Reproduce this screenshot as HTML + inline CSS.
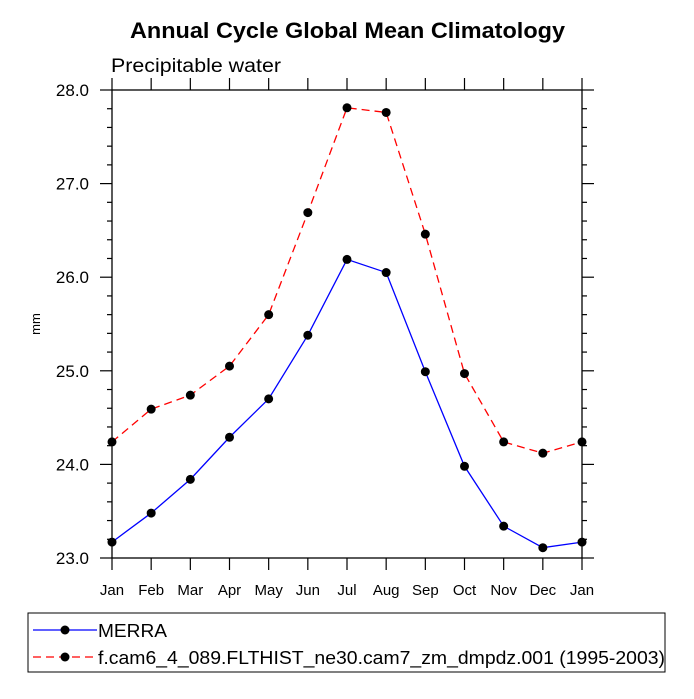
<!DOCTYPE html>
<html><head><meta charset="utf-8"><style>
body{margin:0;background:#fff}
svg text{font-family:"Liberation Sans",Arial,sans-serif}
</style></head><body>
<svg id="c" width="694" height="694" viewBox="0 0 694 694" xmlns="http://www.w3.org/2000/svg">
<text x="130" y="38" font-size="22" font-weight="bold" textLength="435" lengthAdjust="spacingAndGlyphs">Annual Cycle Global Mean Climatology</text>
<text x="111" y="72" font-size="19" textLength="170" lengthAdjust="spacingAndGlyphs">Precipitable water</text>
<text transform="translate(40,324) rotate(-90)" text-anchor="middle" font-size="13">mm</text>
<g id="axes"></g>
<g id="series"></g>
<g>
<rect x="28" y="613" width="637" height="59" fill="#fff" stroke="#000" stroke-width="1"/>
<line x1="33" y1="630" x2="97" y2="630" stroke="#0000ff" stroke-width="1.3"/>
<circle cx="65" cy="630" r="4.5" fill="#000"/>
<text x="98" y="637" font-size="18" textLength="69" lengthAdjust="spacingAndGlyphs">MERRA</text>
<line x1="33" y1="657" x2="97" y2="657" stroke="#ff0000" stroke-width="1.3" stroke-dasharray="8,5"/>
<circle cx="65" cy="657" r="4.5" fill="#000"/>
<text x="98" y="664" font-size="18" textLength="567" lengthAdjust="spacingAndGlyphs">f.cam6_4_089.FLTHIST_ne30.cam7_zm_dmpdz.001 (1995-2003)</text>
</g>
</svg>
<script>
const months=["Jan","Feb","Mar","Apr","May","Jun","Jul","Aug","Sep","Oct","Nov","Dec","Jan"];
const merra=[23.17,23.48,23.84,24.29,24.70,25.38,26.19,26.05,24.99,23.98,23.34,23.11,23.17];
const model=[24.24,24.59,24.74,25.05,25.60,26.69,27.81,27.76,26.46,24.97,24.24,24.12,24.24];
const yTicks=["23.0","24.0","25.0","26.0","27.0","28.0"];
const NS="http://www.w3.org/2000/svg";
const L=112,R=582,T=90,B=558,ymin=23,ymax=28;
const xs=i=>L+(R-L)*i/(months.length-1);
const ys=v=>B-(v-ymin)/(ymax-ymin)*(B-T);
function mk(t,a,p){const e=document.createElementNS(NS,t);for(const k in a)e.setAttribute(k,a[k]);p.appendChild(e);return e;}
const ax=document.getElementById('axes');
const frame=mk('rect',{x:L,y:T,width:R-L,height:B-T,fill:'none',stroke:'#000','stroke-width':1.3},ax);


months.forEach((m,i)=>{const x=xs(i);
mk('line',{x1:x,y1:B,x2:x,y2:B+12,stroke:'#000','stroke-width':1.2},ax);
mk('line',{x1:x,y1:T,x2:x,y2:T-12,stroke:'#000','stroke-width':1.2},ax);
const t=mk('text',{x:x,y:595,'text-anchor':'middle','font-size':15},ax);t.textContent=m;

});
for(let v=ymin;v<=ymax+1e-9;v+=0.2){const y=ys(v);const major=Math.abs(v-Math.round(v))<1e-6;const len=major?12:5;
mk('line',{x1:L,y1:y,x2:L-len,y2:y,stroke:'#000','stroke-width':1.2},ax);
mk('line',{x1:R,y1:y,x2:R+len,y2:y,stroke:'#000','stroke-width':1.2},ax);}
yTicks.forEach(s=>{const t=mk('text',{x:89,y:ys(parseFloat(s))+6,'text-anchor':'end','font-size':17},ax);t.textContent=s;

});
const sg=document.getElementById('series');
function series(vals,color,dash,name){
const p=mk('polyline',{points:vals.map((v,i)=>xs(i)+','+ys(v)).join(' '),fill:'none',stroke:color,'stroke-width':1.3,'stroke-dasharray':dash},sg);


vals.forEach((v,i)=>{const c=mk('circle',{cx:xs(i),cy:ys(v),r:4.5,fill:'#000'},sg);

});}
series(merra,'#0000ff','none','merra');
series(model,'#ff0000','8,5','model');
</script>
</body></html>
